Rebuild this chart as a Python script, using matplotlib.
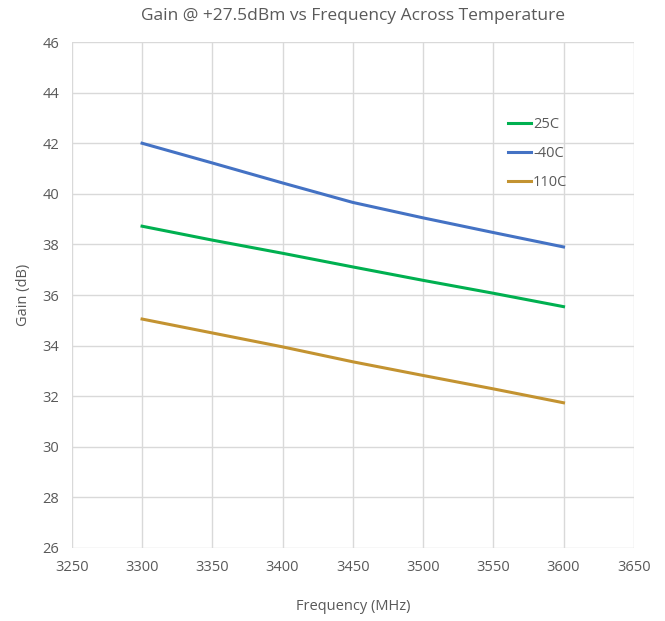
import matplotlib
matplotlib.use("Agg")
import matplotlib.pyplot as plt

freq = [3300, 3350, 3400, 3450, 3500, 3550, 3600]
gain_25c = [38.72, 38.17, 37.65, 37.11, 36.58, 36.07, 35.54]
gain_m40c = [42.0, 41.22, 40.43, 39.66, 39.05, 38.47, 37.90]
gain_110c = [35.05, 34.50, 33.95, 33.36, 32.82, 32.29, 31.74]
xticks = [3250, 3300, 3350, 3400, 3450, 3500, 3550, 3600, 3650]
yticks = [26, 28, 30, 32, 34, 36, 38, 40, 42, 44, 46]

plt.rcParams['font.family'] = ['Open Sans', 'DejaVu Sans']
txt = '#595959'

fig = plt.figure(figsize=(6.65, 6.21), dpi=100)
ax = fig.add_axes([0.108, 0.1176, 0.845, 0.8147])

ax.plot(freq, gain_25c, color='#00B050', lw=2.2, label='25C')
ax.plot(freq, gain_m40c, color='#4472C4', lw=2.2, label='-40C')
ax.plot(freq, gain_110c, color='#C39331', lw=2.2, label='110C')

ax.set_xlim(3250, 3650)
ax.set_ylim(26, 46)
ax.set_xticks(xticks)
ax.set_yticks(yticks)
ax.grid(True, color='#d9d9d9', lw=1)
ax.set_axisbelow(True)
for s in ax.spines.values():
    s.set_visible(False)
ax.tick_params(length=0, labelsize=10.5, colors=txt, pad=9)

ax.set_xlabel('Frequency (MHz)', fontsize=10.5, color=txt, labelpad=17)
ax.set_ylabel('Gain (dB)', fontsize=10.5, color=txt, labelpad=8)
ax.set_title('Gain @ +27.5dBm vs Frequency Across Temperature', fontsize=12.5, color=txt, pad=16)

leg = ax.legend(loc='upper left', bbox_to_anchor=(0.752, 0.877), frameon=False,
                fontsize=10.5, handlelength=1.6, handletextpad=0.15, labelspacing=0.95)
for t in leg.get_texts():
    t.set_color(txt)

fig.savefig('out.png', dpi=100)
